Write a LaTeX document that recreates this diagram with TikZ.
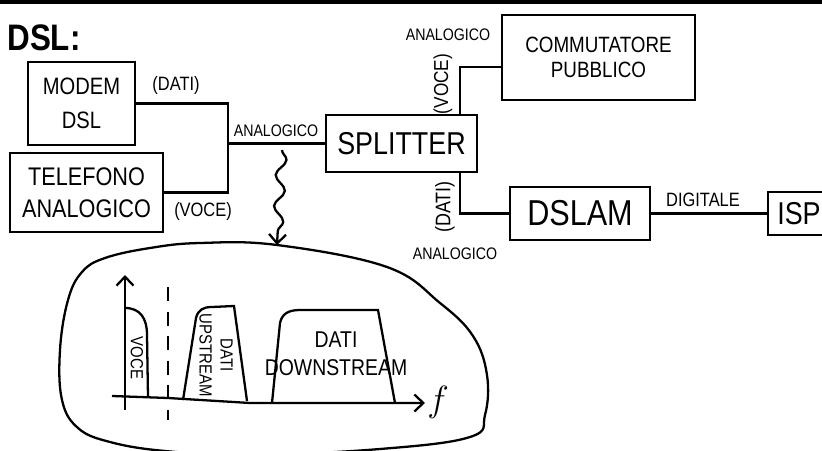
\documentclass[tikz,border=0pt]{standalone}
\usepackage{fontspec}
\setmainfont{Liberation Sans}[FakeStretch=0.85]
\usetikzlibrary{positioning,arrows.meta,decorations.pathmorphing}
\newcommand{\txtsz}[2]{\fontsize{#1}{#2}\selectfont}

\begin{document}
\begin{tikzpicture}[x=0.02cm, y=-0.02cm, line width=1.3pt,
  box/.style={draw, line width=1.3pt, inner sep=0pt, align=center},
  lbl/.style={inner sep=0pt, align=center},
  barb/.style={-{Straight Barb[length=1.8mm,width=3.4mm]}}]
  \useasboundingbox (0,0) rectangle (822,450);

  % ── Top rule and title ──
  \fill (0,0) rectangle (822,4);
  \node[lbl,font=\txtsz{21}{24}\bfseries] (title) at (44,38) {DSL:};

  % ── Boxes ──
  \node[box,minimum width=2.14cm,minimum height=1.66cm,font=\txtsz{13.5}{19}] (modem) at (81.5,103.5) {MODEM\\DSL};
  \node[box,minimum width=3.06cm,minimum height=1.58cm,font=\txtsz{14.5}{18}] (tel) at (86.5,192.5) {TELEFONO\\ANALOGICO};
  \node[box,minimum width=3.02cm,minimum height=1.14cm,font=\txtsz{18}{20}] (splitter) at (401.5,143.5) {SPLITTER};
  \node[box,minimum width=3.86cm,minimum height=1.7cm,font=\txtsz{12.6}{14}] (comm) at (598.5,57.5) {COMMUTATORE\\PUBBLICO};
  \node[box,minimum width=2.8cm,minimum height=1.06cm,font=\txtsz{20.5}{22}] (dslam) at (580,213.5) {DSLAM};
  \node[box,minimum width=1.24cm,minimum height=0.86cm,font=\txtsz{18}{20}] (isp) at (799,213.5) {ISP};

  % ── Wires ──
  \coordinate (jn) at (228,143.5);
  \draw (modem.east) -| (jn) |- (tel.east);
  \draw (jn) -- (splitter.west);
  \coordinate (vtap) at (460,67);
  \draw (vtap |- splitter.north) -- (vtap) -- (vtap -| comm.west);
  \coordinate (dtap) at (460,213.5);
  \draw (dtap |- splitter.south) -- (dtap) -- (dslam.west);
  \draw (dslam.east) -- (isp.west);

  % ── Wire labels ──
  \node[lbl,font=\txtsz{11}{13}] (datiA) at (176,85) {(DATI)};
  \node[lbl,font=\txtsz{11}{13}] (voceA) at (203,211) {(VOCE)};
  \node[lbl,font=\txtsz{9.5}{11}] (anaA) at (276,131) {ANALOGICO};
  \node[lbl,font=\txtsz{9.5}{11}] (anaB) at (448,35) {ANALOGICO};
  \node[lbl,font=\txtsz{11.5}{13},rotate=90] (voceB) at (443,84) {(VOCE)};
  \node[lbl,font=\txtsz{12}{14},rotate=90] (datiB) at (445,207) {(DATI)};
  \node[lbl,font=\txtsz{9.5}{11}] (anaC) at (455,254) {ANALOGICO};
  \node[lbl,font=\txtsz{11}{13}] (digi) at (703,200) {DIGITALE};

  % ── Zoom arrow ──
  \coordinate (sq0) at (282,150);
  \coordinate (sq1) at (277,245);
  \draw[barb,decorate,decoration={snake,amplitude=0.1cm,segment length=0.62cm,post length=2.5mm}]
    (sq0) -- (sq1);

  % ── Spectrum bubble ──
  \draw plot[smooth cycle,tension=0.65] coordinates {
    (277,245) (387,267) (440,303) (473,336) (487,375) (485,415) (470,437)
    (380,449) (250,455) (165,451) (110,442) (78,428) (62,400) (60,350)
    (68,300) (82,272) (105,258) (150,248) (200,243)};

  % ── Axes ──
  \coordinate (fx0) at (112,396);
  \coordinate (fx1) at (425,403);
  \draw[barb] (fx0) -- (168,398) -- (250,403) -- (fx1);
  \draw[barb] (125,410) -- (125,275);
  \node[lbl,font=\txtsz{20}{22}] (freq) at (438,402) {$f$};
  \draw[line width=1.3pt,dash pattern=on 8pt off 6pt] (168,287) -- (168,420);

  % ── Bands ──
  \draw (125,308) .. controls (140,308) and (147,318) .. (147,335) -- (148,397);
  \draw (183,400) -- (196,318) .. controls (198,310) and (203,307) .. (212,307)
        -- (234,306) -- (247,401);
  \draw (272,403) -- (280,323) .. controls (282,314) and (288,310) .. (300,310)
        -- (378,310) -- (395,403);
  \node[lbl,font=\txtsz{10}{12},rotate=-90] (voceC) at (137,358) {VOCE};
  \node[lbl,font=\txtsz{10}{12},rotate=-90] (up) at (216,355) {DATI\\UPSTREAM};
  \node[lbl,font=\txtsz{13}{16}] (down) at (336,354) {DATI\\DOWNSTREAM};
\end{tikzpicture}
\end{document}
